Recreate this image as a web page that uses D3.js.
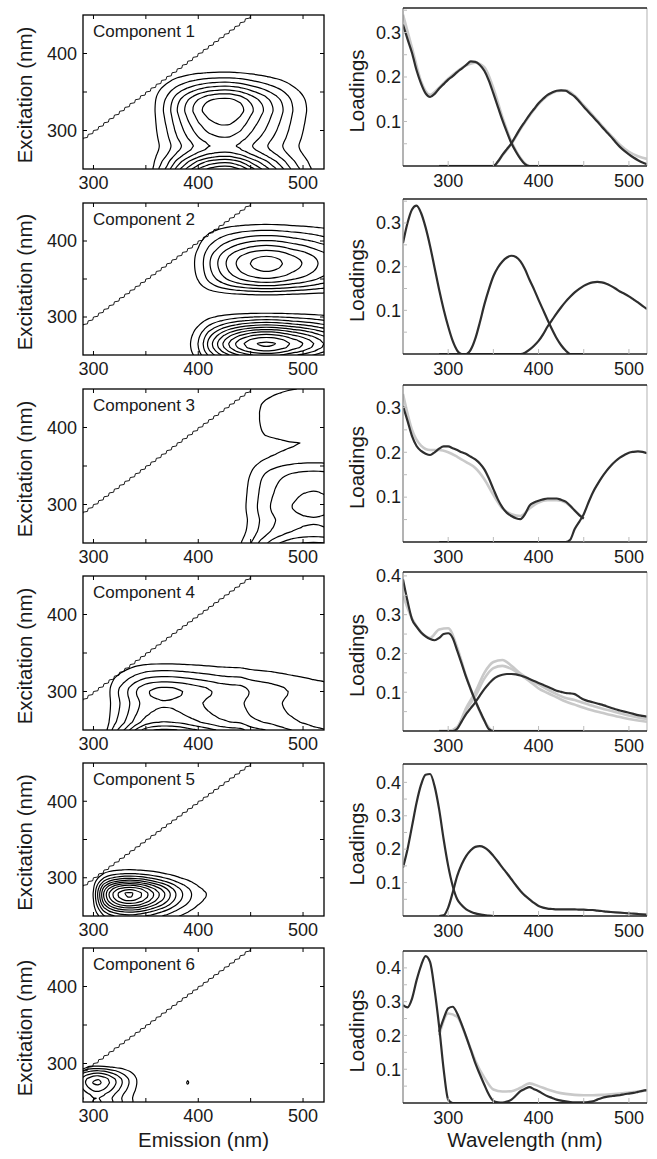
<!DOCTYPE html>
<html lang="en">
<head>
<meta charset="utf-8">
<title>PARAFAC components</title>
<script src="https://d3js.org/d3.v7.min.js"></script>
<style>
  html, body { margin: 0; padding: 0; background: #fff; }
  svg { display: block; font-family: "Liberation Sans", Arial, Helvetica, sans-serif; }
  .tick-label { font-size: 18px; fill: #1a1a1a; }
  .comp-label { font-size: 17px; fill: #1a1a1a; }
  .axis-title { font-size: 20.5px; fill: #1a1a1a; }
  .contour { fill: none; stroke: #000; stroke-width: 1.2px; stroke-linejoin: round; }
  .rayleigh { fill: none; stroke: #000; stroke-width: 0.9px; }
  .load-dark { fill: none; stroke: #2e2e2e; stroke-width: 2.2px; stroke-linejoin: round; }
  .load-gray { fill: none; stroke: #c9c9c9; stroke-width: 2.6px; stroke-linejoin: round; }
</style>
</head>
<body>
<svg id="chart" width="657" height="1159"></svg>
<script>
// wavelength grids (nm)
var exWl = [250,255,260,265,270,275,280,285,290,295,300,305,310,315,320,325,330,335,340,345,
            350,355,360,365,370,375,380,385,390,395,400,405,410,415,420,425,430,435,440,445,450];
var emWl = [290,295,300,305,310,315,320,325,330,335,340,345,350,355,360,365,370,375,380,385,
            390,395,400,405,410,415,420,425,430,435,440,445,450,455,460,465,470,475,480,485,
            490,495,500,505,510,515,520];
var exWl10 = [250,260,270,280,290,300,310,320,330,340,350,360,370,380,390,400,410,420,430,440,450];
var emWl10 = [290,300,310,320,330,340,350,360,370,380,390,400,410,420,430,440,450,460,470,480,490,500,510,520];

var componentNames = ["Component 1", "Component 2", "Component 3", "Component 4", "Component 5", "Component 6"];

// excitation loadings (on exWl)
var exLoad1 = [0.318,0.285,0.254,0.215,0.185,0.163,0.155,0.162,0.174,0.184,0.194,0.202,0.211,0.219,0.227,0.235,0.234,0.227,0.214,0.192,
               0.163,0.133,0.103,0.076,0.051,0.032,0.016,0.004,0,0,0,0,0,0,0,0,0,0,0,0,0];
var exLoad2 = [0.254,0.300,0.331,0.340,0.323,0.290,0.247,0.197,0.147,0.102,0.063,0.030,0.008,0,0,0.010,0.035,0.072,0.113,0.148,
               0.178,0.198,0.212,0.221,0.225,0.222,0.212,0.194,0.170,0.148,0.124,0.101,0.078,0.056,0.036,0.020,0.008,0,0,0,0];
var exLoad3 = [0.303,0.270,0.236,0.214,0.203,0.197,0.194,0.200,0.208,0.213,0.213,0.209,0.205,0.200,0.196,0.190,0.184,0.175,0.162,0.142,
               0.118,0.095,0.077,0.065,0.058,0.053,0.051,0.062,0.081,0.088,0.092,0.095,0.097,0.097,0.097,0.094,0.090,0.081,0.070,0.060,0.052];
var exLoad4 = [0.391,0.335,0.288,0.269,0.254,0.244,0.237,0.234,0.240,0.250,0.252,0.240,0.207,0.173,0.138,0.107,0.078,0.052,0.027,0.005,
               0,0,0,0,0,0,0,0,0,0,0,0,0,0,0,0,0,0,0,0,0];
var exLoad5 = [0.145,0.200,0.269,0.339,0.393,0.423,0.425,0.388,0.319,0.229,0.150,0.090,0.050,0.032,0.020,0.013,0.008,0.005,0.003,0.001,
               0,0,0,0,0,0,0,0,0,0,0,0,0,0,0,0,0,0,0,0,0];
var exLoad6 = [0.290,0.283,0.309,0.363,0.407,0.435,0.417,0.334,0.226,0.099,0.010,0,0,0,0,0,0,0,0,0,
               0,0,0,0,0,0,0,0,0,0,0,0,0,0,0,0,0,0,0,0,0];

// emission loadings (on emWl)
var emLoad1 = [0,0,0,0,0,0,0,0,0,0,0,0,0,0.010,0.025,0.038,0.051,0.068,0.085,0.100,
               0.115,0.128,0.141,0.151,0.160,0.165,0.169,0.170,0.169,0.163,0.156,0.145,0.133,0.122,0.111,0.100,0.088,0.077,0.066,0.054,
               0.043,0.034,0.026,0.019,0.013,0.008,0.004];
var emLoad2 = [0,0,0,0,0,0,0,0,0,0,0,0,0,0,0,0,0,0,0,0.003,
               0.010,0.019,0.030,0.045,0.063,0.078,0.093,0.107,0.120,0.131,0.141,0.149,0.156,0.161,0.164,0.165,0.164,0.161,0.156,0.150,
               0.143,0.138,0.132,0.125,0.118,0.110,0.103];
var emLoad3 = [0,0,0,0,0,0,0,0,0,0,0,0,0,0,0,0,0,0,0,0,
               0,0,0,0,0,0,0,0,0,0.005,0.029,0.045,0.062,0.087,0.110,0.128,0.144,0.158,0.170,0.180,
               0.188,0.194,0.199,0.201,0.202,0.201,0.198];
var emLoad4 = [0,0,0,0,0.006,0.025,0.044,0.059,0.074,0.091,0.108,0.122,0.134,0.141,0.145,0.147,0.147,0.146,0.143,0.139,
               0.134,0.129,0.124,0.119,0.114,0.109,0.104,0.101,0.098,0.097,0.095,0.088,0.081,0.077,0.074,0.071,0.068,0.064,0.060,0.056,
               0.053,0.050,0.047,0.044,0.041,0.039,0.037];
var emLoad5 = [0,0.002,0.025,0.070,0.120,0.155,0.180,0.197,0.207,0.209,0.205,0.195,0.180,0.163,0.145,0.128,0.110,0.092,0.075,0.061,
               0.050,0.039,0.030,0.025,0.022,0.021,0.020,0.020,0.020,0.020,0.020,0.019,0.019,0.018,0.018,0.016,0.015,0.013,0.012,0.011,
               0.010,0.009,0.008,0.007,0.006,0.005,0.004];
var emLoad6 = [0.211,0.250,0.280,0.285,0.265,0.232,0.196,0.157,0.118,0.085,0.054,0.025,0.006,0.002,0.001,0.004,0.010,0.022,0.035,0.042,
               0.047,0.041,0.035,0.027,0.020,0.015,0.010,0.007,0.005,0.003,0.002,0.002,0.002,0.003,0.005,0.010,0.015,0.018,0.020,0.022,
               0.023,0.026,0.028,0.030,0.033,0.036,0.038];

// split-half validation loadings, light grey (exWl10 / emWl10)
var grayEx1 = [0.340,0.265,0.190,0.160,0.176,0.196,0.213,0.226,0.232,0.222,0.175,0.110,0.055,0.018,0,0,0,0,0,0,0];
var grayEm1 = [0,0,0,0,0,0,0,0.024,0.050,0.083,0.113,0.139,0.158,0.168,0.170,0.158,0.136,0.114,0.091,0.069,0.048,0.032,0.022,0.016];
var grayEx3 = [0.330,0.250,0.215,0.205,0.205,0.200,0.190,0.178,0.165,0.140,0.105,0.075,0.062,0.058,0.075,0.088,0.093,0.093,0.088,0.070,0.052];
var grayEx4 = [0.350,0.290,0.255,0.240,0.262,0.265,0.215,0.140,0.078,0.027,0,0,0,0,0,0,0,0,0,0,0];
var grayEm4a = [0,0,0.010,0.060,0.100,0.150,0.178,0.183,0.168,0.148,0.133,0.120,0.107,0.095,0.085,0.080,0.072,0.065,0.058,0.052,0.046,0.040,0.035,0.031];
var grayEm4b = [0,0,0.010,0.055,0.090,0.135,0.162,0.168,0.160,0.145,0.128,0.110,0.098,0.087,0.076,0.068,0.060,0.053,0.047,0.041,0.036,0.031,0.027,0.024];
var grayEm6 = [0.200,0.265,0.255,0.195,0.125,0.075,0.040,0.034,0.035,0.045,0.058,0.050,0.040,0.032,0.027,0.024,0.023,0.023,0.024,0.026,0.028,0.031,0.034,0.037];

// contour levels of the EEM surfaces (ex x em)
var levels1 = [0.005,0.010,0.015,0.020,0.025,0.030,0.035,0.040,0.045,0.050,0.055];
var levels2 = [0.005,0.010,0.015,0.020,0.025,0.030,0.035,0.040,0.045,0.050,0.055];
var levels3 = [0.010,0.020,0.030,0.040,0.050,0.060];
var levels4 = [0.007,0.014,0.021,0.028,0.035,0.042,0.049,0.056];
var levels5 = [0.010,0.018,0.026,0.034,0.042,0.050,0.058,0.066,0.074,0.082,0.088];
var levels6 = [0.020,0.040,0.060,0.080,0.100,0.120];

// axes
var loadMax = [0.355, 0.355, 0.35, 0.41, 0.455, 0.45];
var emTicks = [300, 400, 500], emMinor = [300, 350, 400, 450, 500];
var exTicks = [300, 400], exMinor = [300, 350, 400];
var loadTicks = [0.1, 0.2, 0.3, 0.4];
var loadMinor = [0.05, 0.1, 0.15, 0.2, 0.25, 0.3, 0.35, 0.4];

var components = componentNames.map(function(name, k) {
    return {
        name: name,
        ex: [exLoad1, exLoad2, exLoad3, exLoad4, exLoad5, exLoad6][k],
        em: [emLoad1, emLoad2, emLoad3, emLoad4, emLoad5, emLoad6][k],
        grayEx: [[grayEx1], [], [grayEx3], [grayEx4], [], []][k],
        grayEm: [[grayEm1], [], [], [grayEm4a, grayEm4b], [], [grayEm6]][k],
        levels: [levels1, levels2, levels3, levels4, levels5, levels6][k]
    };
});

// layout
var leftX0 = 83, leftX1 = 324, rightX0 = 403, rightX1 = 647;
var leftTop = [15, 203, 389, 576, 763, 948];
var leftBot = [169, 355, 543, 730, 916, 1102];
var rightTop = [8, 199, 385, 572, 764, 951];
var rightBot = [166, 354, 542, 731, 916, 1103];

var svg = d3.select("#chart");
var defs = svg.append("defs");

var xEm = d3.scaleLinear().domain([290, 520]).range([leftX0, leftX1]);
var xWl = d3.scaleLinear().domain([250, 520]).range([rightX0, rightX1]);

var n = emWl.length, m = exWl.length;

// smooth closed ring through the contour points
var ringLine = d3.line().curve(d3.curveCatmullRomClosed.alpha(0.5));

components.forEach(function(c, k) {
    var yEx = d3.scaleLinear().domain([250, 450]).range([leftBot[k], leftTop[k]]);
    var yL = d3.scaleLinear().domain([0, loadMax[k]]).range([rightBot[k], rightTop[k]]);

    // ---------- left: EEM contour ----------
    defs.append("clipPath").attr("id", "clipL" + k)
        .append("rect")
        .attr("x", leftX0).attr("y", leftTop[k])
        .attr("width", leftX1 - leftX0).attr("height", leftBot[k] - leftTop[k]);

    var gL = svg.append("g");
    var plotL = gL.append("g").attr("clip-path", "url(#clipL" + k + ")");

    var grid = new Array(n * m);
    for (var j = 0; j < m; j++) {
        for (var i = 0; i < n; i++) {
            grid[j * n + i] = exWl[j] > emWl[i] ? 0 : c.ex[j] * c.em[i];
        }
    }
    var gx = d3.scaleLinear().domain([0.5, n - 0.5]).range([xEm(emWl[0]), xEm(emWl[n - 1])]);
    var gy = d3.scaleLinear().domain([0.5, m - 0.5]).range([yEx(exWl[0]), yEx(exWl[m - 1])]);
    var contours = d3.contours().size([n, m]).thresholds(c.levels)(grid);

    var rings = [];
    contours.forEach(function(mp) {
        mp.coordinates.forEach(function(poly) {
            poly.forEach(function(ring) {
                rings.push(ring.slice(0, -1).map(function(p) { return [gx(p[0]), gy(p[1])]; }));
            });
        });
    });

    plotL.selectAll("path.contour")
        .data(rings)
        .enter().append("path")
        .attr("class", "contour")
        .attr("d", function(d) { return ringLine(d); });

    // Rayleigh scatter boundary (Ex = Em), serrated on the excitation grid
    var steps = [];
    for (var s = 0; s < exWl.length - 1; s++) {
        if (exWl[s] < 285) continue;
        var w0 = exWl[s], dw = exWl[s + 1] - exWl[s];
        steps.push([w0, w0]);
        steps.push([w0 + 0.85 * dw, w0 + 0.2 * dw]);
    }
    steps.push([exWl[exWl.length - 1], exWl[exWl.length - 1]]);
    plotL.append("path")
        .attr("class", "rayleigh")
        .attr("d", d3.line().x(function(d) { return xEm(d[0]); }).y(function(d) { return yEx(d[1]); })(steps));

    gL.append("rect")
        .attr("x", leftX0).attr("y", leftTop[k])
        .attr("width", leftX1 - leftX0).attr("height", leftBot[k] - leftTop[k])
        .attr("fill", "none").attr("stroke", "#000").attr("stroke-width", 1.3);

    // inward ticks on all four sides
    emMinor.forEach(function(t) {
        gL.append("line").attr("x1", xEm(t)).attr("x2", xEm(t))
            .attr("y1", leftBot[k]).attr("y2", leftBot[k] - 4).attr("stroke", "#000");
        gL.append("line").attr("x1", xEm(t)).attr("x2", xEm(t))
            .attr("y1", leftTop[k]).attr("y2", leftTop[k] + 4).attr("stroke", "#000");
    });
    exMinor.forEach(function(t) {
        gL.append("line").attr("x1", leftX0).attr("x2", leftX0 + 4)
            .attr("y1", yEx(t)).attr("y2", yEx(t)).attr("stroke", "#000");
        gL.append("line").attr("x1", leftX1).attr("x2", leftX1 - 4)
            .attr("y1", yEx(t)).attr("y2", yEx(t)).attr("stroke", "#000");
    });
    emTicks.forEach(function(t) {
        gL.append("text").attr("class", "tick-label")
            .attr("x", xEm(t)).attr("y", leftBot[k] + 19.5)
            .attr("text-anchor", "middle").text(t);
    });
    exTicks.forEach(function(t) {
        gL.append("text").attr("class", "tick-label")
            .attr("x", leftX0 - 6).attr("y", yEx(t)).attr("dy", "0.35em")
            .attr("text-anchor", "end").text(t);
    });
    gL.append("text").attr("class", "comp-label")
        .attr("x", leftX0 + 10).attr("y", leftTop[k] + 22)
        .text(c.name);
    gL.append("text").attr("class", "axis-title")
        .attr("transform", "translate(32," + ((leftTop[k] + leftBot[k]) / 2 + 3) + ") rotate(-90)")
        .attr("text-anchor", "middle").text("Excitation (nm)");

    // ---------- right: loadings ----------
    defs.append("clipPath").attr("id", "clipR" + k)
        .append("rect")
        .attr("x", rightX0).attr("y", rightTop[k])
        .attr("width", rightX1 - rightX0).attr("height", rightBot[k] - rightTop[k]);

    var gR = svg.append("g");
    var plotR = gR.append("g").attr("clip-path", "url(#clipR" + k + ")");

    var lineEx = d3.line().curve(d3.curveMonotoneX)
        .x(function(d, i) { return xWl(exWl[i]); }).y(function(d) { return yL(d); });
    var lineEm = d3.line().curve(d3.curveMonotoneX)
        .x(function(d, i) { return xWl(emWl[i]); }).y(function(d) { return yL(d); });
    var lineEx10 = d3.line().curve(d3.curveMonotoneX)
        .x(function(d, i) { return xWl(exWl10[i]); }).y(function(d) { return yL(d); });
    var lineEm10 = d3.line().curve(d3.curveMonotoneX)
        .x(function(d, i) { return xWl(emWl10[i]); }).y(function(d) { return yL(d); });

    c.grayEx.forEach(function(g) {
        plotR.append("path").attr("class", "load-gray").attr("d", lineEx10(g));
    });
    c.grayEm.forEach(function(g) {
        plotR.append("path").attr("class", "load-gray").attr("d", lineEm10(g));
    });
    plotR.append("path").attr("class", "load-dark").attr("d", lineEx(c.ex));
    plotR.append("path").attr("class", "load-dark").attr("d", lineEm(c.em));

    // frame: dark top/bottom, grey sides
    gR.append("line").attr("x1", rightX0).attr("x2", rightX0)
        .attr("y1", rightTop[k]).attr("y2", rightBot[k]).attr("stroke", "#8a8a8a").attr("stroke-width", 1.3);
    gR.append("line").attr("x1", rightX1).attr("x2", rightX1)
        .attr("y1", rightTop[k]).attr("y2", rightBot[k]).attr("stroke", "#c4c4c4").attr("stroke-width", 1.3);
    gR.append("line").attr("x1", rightX0).attr("x2", rightX1)
        .attr("y1", rightTop[k]).attr("y2", rightTop[k]).attr("stroke", "#222").attr("stroke-width", 1.4);
    gR.append("line").attr("x1", rightX0).attr("x2", rightX1)
        .attr("y1", rightBot[k]).attr("y2", rightBot[k]).attr("stroke", "#222").attr("stroke-width", 1.6);

    emMinor.forEach(function(t) {
        gR.append("line").attr("x1", xWl(t)).attr("x2", xWl(t))
            .attr("y1", rightBot[k]).attr("y2", rightBot[k] - 5).attr("stroke", "#bbb");
    });
    loadMinor.filter(function(t) { return t < loadMax[k]; }).forEach(function(t) {
        gR.append("line").attr("x1", rightX0).attr("x2", rightX0 + 4)
            .attr("y1", yL(t)).attr("y2", yL(t)).attr("stroke", "#bbb");
    });
    emTicks.forEach(function(t) {
        gR.append("text").attr("class", "tick-label")
            .attr("x", xWl(t)).attr("y", rightBot[k] + 21)
            .attr("text-anchor", "middle").text(t);
    });
    loadTicks.filter(function(t) { return t < loadMax[k]; }).forEach(function(t) {
        gR.append("text").attr("class", "tick-label")
            .attr("x", rightX0 - 2).attr("y", yL(t)).attr("dy", "0.35em")
            .attr("text-anchor", "end").text(t.toFixed(1));
    });
    gR.append("text").attr("class", "axis-title")
        .attr("transform", "translate(364," + ((rightTop[k] + rightBot[k]) / 2 + 4) + ") rotate(-90)")
        .attr("text-anchor", "middle").text("Loadings");
});

svg.append("text").attr("class", "axis-title")
    .attr("x", (leftX0 + leftX1) / 2).attr("y", 1147)
    .attr("text-anchor", "middle").text("Emission (nm)");
svg.append("text").attr("class", "axis-title")
    .attr("x", (rightX0 + rightX1) / 2).attr("y", 1147)
    .attr("text-anchor", "middle").text("Wavelength (nm)");
</script>
</body>
</html>
